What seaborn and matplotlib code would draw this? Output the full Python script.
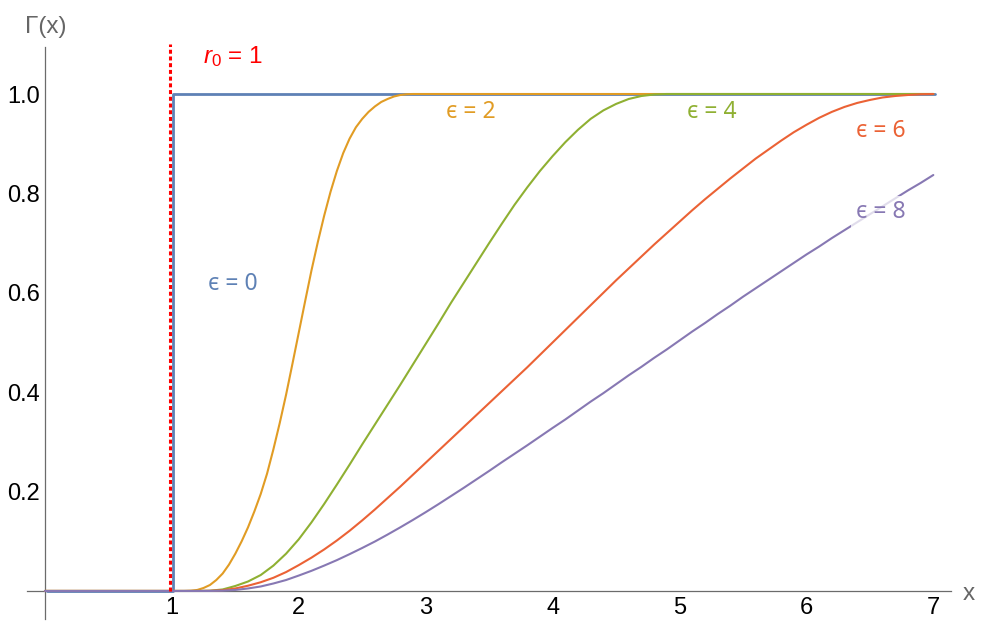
import matplotlib
matplotlib.use("Agg")
import matplotlib.pyplot as plt
import matplotlib.transforms as mtransforms
import seaborn as sns
import pandas as pd

# ---------------- data ----------------
r0 = 1

eps0_x = [0, 1, 1, 7]
eps0_y = [0, 0, 1, 1]

eps2_x = [0, 1.0, 1.1, 1.15, 1.2, 1.25, 1.3, 1.35, 1.4, 1.45, 1.5, 1.55, 1.6, 1.65,
          1.7, 1.75, 1.8, 1.85, 1.9, 1.95, 2.0, 2.05, 2.1, 2.15, 2.2, 2.25, 2.3,
          2.35, 2.4, 2.45, 2.5, 2.55, 2.6, 2.65, 2.7, 2.75, 2.8, 2.85, 2.9, 7.0]
eps2_y = [0, 0, 0, 0.0005, 0.002, 0.006, 0.012, 0.022, 0.035, 0.053, 0.075, 0.1,
          0.128, 0.16, 0.195, 0.236, 0.285, 0.338, 0.395, 0.457, 0.52, 0.583,
          0.645, 0.702, 0.755, 0.803, 0.845, 0.881, 0.91, 0.933, 0.95, 0.964,
          0.975, 0.984, 0.99, 0.995, 0.998, 0.9995, 1.0, 1.0]

eps4_x = [0, 1.0, 1.2, 1.3, 1.4, 1.5, 1.6, 1.7, 1.8, 1.9, 2.0, 2.1, 2.2, 2.3, 2.4,
          2.5, 2.6, 2.7, 2.8, 2.9, 3.0, 3.1, 3.2, 3.3, 3.4, 3.5, 3.6, 3.7, 3.8,
          3.9, 4.0, 4.1, 4.2, 4.3, 4.4, 4.5, 4.6, 4.7, 4.8, 4.9, 5.0, 7.0]
eps4_y = [0, 0, 0, 0.0005, 0.003, 0.01, 0.019, 0.032, 0.051, 0.075, 0.104, 0.138,
          0.175, 0.214, 0.254, 0.295, 0.335, 0.375, 0.415, 0.456, 0.497, 0.538,
          0.58, 0.62, 0.66, 0.70, 0.739, 0.777, 0.812, 0.845, 0.875, 0.903, 0.928,
          0.95, 0.967, 0.98, 0.99, 0.996, 0.999, 1.0, 1.0, 1.0]

eps6_x = [0, 1.0, 1.2, 1.3, 1.4, 1.5, 1.6, 1.7, 1.8, 1.9, 2.0, 2.1, 2.2, 2.3, 2.4,
          2.5, 2.6, 2.7, 2.8, 2.9, 3.0, 3.1, 3.2, 3.3, 3.4, 3.5, 3.6, 3.7, 3.8,
          3.9, 4.0, 4.1, 4.2, 4.3, 4.4, 4.5, 4.6, 4.7, 4.8, 4.9, 5.0, 5.1, 5.2,
          5.3, 5.4, 5.5, 5.6, 5.7, 5.8, 5.9, 6.0, 6.1, 6.2, 6.3, 6.4, 6.5, 6.6,
          6.7, 6.8, 6.9, 7.0]
eps6_y = [0, 0, 0, 0.0003, 0.0015, 0.005, 0.0105, 0.0175, 0.0265, 0.038, 0.052,
          0.067, 0.0835, 0.1015, 0.121, 0.142, 0.164, 0.187, 0.21, 0.234, 0.258,
          0.282, 0.306, 0.33, 0.354, 0.378, 0.402, 0.426, 0.45, 0.475, 0.50, 0.525,
          0.55, 0.575, 0.60, 0.625, 0.649, 0.673, 0.697, 0.72, 0.743, 0.766,
          0.788, 0.809, 0.83, 0.85, 0.87, 0.888, 0.906, 0.923, 0.938, 0.952,
          0.964, 0.974, 0.982, 0.988, 0.993, 0.996, 0.998, 0.9995, 1.0]

eps8_x = [0, 1.0, 1.3, 1.4, 1.5, 1.6, 1.7, 1.8, 1.9, 2.0, 2.1, 2.2, 2.3, 2.4,
          2.5, 2.6, 2.7, 2.8, 2.9, 3.0, 3.1, 3.2, 3.3, 3.4, 3.5, 3.6, 3.7, 3.8,
          3.9, 4.0, 4.1, 4.2, 4.3, 4.4, 4.5, 4.6, 4.7, 4.8, 4.9, 5.0, 5.1, 5.2,
          5.3, 5.4, 5.5, 5.6, 5.7, 5.8, 5.9, 6.0, 6.1, 6.2, 6.3, 6.4, 6.5, 6.6,
          6.7, 6.8, 6.9, 7.0]
eps8_y = [0, 0, 0, 0.0005, 0.002, 0.005, 0.009, 0.015, 0.022, 0.031, 0.0405,
          0.051, 0.062, 0.074, 0.0865, 0.0995, 0.1135, 0.128, 0.143, 0.1585,
          0.1745, 0.191, 0.2075, 0.2245, 0.2415, 0.259, 0.276, 0.293, 0.3105,
          0.328, 0.345, 0.363, 0.381, 0.398, 0.416, 0.434, 0.451, 0.469, 0.486,
          0.504, 0.522, 0.539, 0.557, 0.574, 0.592, 0.609, 0.626, 0.643, 0.66,
          0.677, 0.693, 0.71, 0.726, 0.742, 0.758, 0.774, 0.79, 0.806, 0.821, 0.837]

x_tick_values = [1, 2, 3, 4, 5, 6, 7]
x_tick_labels = ["1", "2", "3", "4", "5", "6", "7"]
y_tick_values = [0.2, 0.4, 0.6, 0.8, 1.0]
y_tick_labels = ["0.2", "0.4", "0.6", "0.8", "1.0"]

curve_labels = ["ϵ = 0", "ϵ = 2", "ϵ = 4", "ϵ = 6", "ϵ = 8"]

# ---------------- style ----------------
sns.set_theme(style="white")
plt.rcParams["font.family"] = ["Liberation Sans", "DejaVu Sans"]
plt.rcParams["mathtext.fontset"] = "custom"
plt.rcParams["mathtext.rm"] = "Liberation Sans"
plt.rcParams["mathtext.it"] = "Liberation Sans:italic"

colors = ["#5E81B5", "#E19C24", "#8FB032", "#EB6235", "#8778B3"]
axis_gray = "#6b6b6b"

fig = plt.figure(figsize=(10.05, 6.41), dpi=100)
ax = fig.add_axes([0.02706, 0.0339, 0.9193, 0.8931])

curves = [(eps0_x, eps0_y), (eps2_x, eps2_y), (eps4_x, eps4_y),
          (eps6_x, eps6_y), (eps8_x, eps8_y)]
for i, ((xs, ys), c) in enumerate(zip(curves, colors)):
    df = pd.DataFrame({"x": xs, "y": ys})
    sns.lineplot(data=df, x="x", y="y", ax=ax, color=c, sort=False,
                 estimator=None, legend=False, lw=(2.0 if i == 0 else 1.5),
                 zorder=3 + i * 0.1, solid_joinstyle="round")
    if i == 0:
        ax.lines[-1].set_transform(
            mtransforms.offset_copy(ax.transData, fig=fig, x=1.6, y=0, units="dots"))

# r0 dotted marker line
ax.plot([r0, r0], [0, 1.10], color="#FF0000", lw=2.2, dashes=(1.3, 0.9),
        clip_on=False, zorder=5,
        transform=mtransforms.offset_copy(ax.transData, fig=fig, x=-1.8, y=0, units="dots"))

ax.set_xlim(-0.14, 7.14)
ax.set_ylim(-0.057, 1.095)

for s in ["top", "right"]:
    ax.spines[s].set_visible(False)
ax.spines["left"].set_position(("data", 0))
ax.spines["bottom"].set_position(("data", 0))
for s in ["left", "bottom"]:
    ax.spines[s].set_color(axis_gray)
    ax.spines[s].set_linewidth(0.9)
    ax.spines[s].set_zorder(2)

ax.set_xticks(x_tick_values)
ax.set_xticklabels(x_tick_labels)
ax.set_yticks(y_tick_values)
ax.set_yticklabels(y_tick_labels)
x_minor = [k * 0.2 for k in range(1, 36) if k % 5 != 0]
y_minor = [-0.05] + [k * 0.05 for k in range(1, 22) if k % 4 != 0]
ax.set_xticks(x_minor, minor=True)
ax.set_yticks(y_minor, minor=True)
ax.tick_params(which="both", direction="in", color=axis_gray, width=0.8,
               labelsize=17, labelcolor="black")
ax.tick_params(which="major", length=3.6)
ax.tick_params(which="minor", length=2.5)
ax.tick_params(axis="x", which="major", pad=4.5)
ax.tick_params(axis="y", which="major", pad=3.5)
ax.set_xlabel("")
ax.set_ylabel("")
ax.grid(False)

# axis labels
ax.text(-0.158, 1.123, "Γ(x)", color="#666666", fontsize=17.5, ha="left",
        va="baseline", clip_on=False)
ax.text(7.234, -0.018, "x", color="#666666", fontsize=17.5, ha="left",
        va="baseline", clip_on=False)

# r0 label
ax.text(1.247, 1.062, r"$r_0$ = 1", color="#FF0000", fontsize=17.5, ha="left",
        va="baseline", zorder=6)

# curve labels
label_pos = [(1.287, 0.606), (3.16, 0.951), (5.057, 0.951), (6.391, 0.913), (6.391, 0.750)]
for (lx, ly), txt, c in zip(label_pos, curve_labels, colors):
    box = None
    if txt != curve_labels[0]:
        box = dict(boxstyle="square,pad=0.2", fc="white", ec="none", alpha=0.75)
    ax.text(lx, ly, txt, color=c, fontsize=16.5, ha="left", va="baseline",
            family=["Noto Sans", "DejaVu Sans"], zorder=6, bbox=box)

fig.savefig("out.png", dpi=100)
